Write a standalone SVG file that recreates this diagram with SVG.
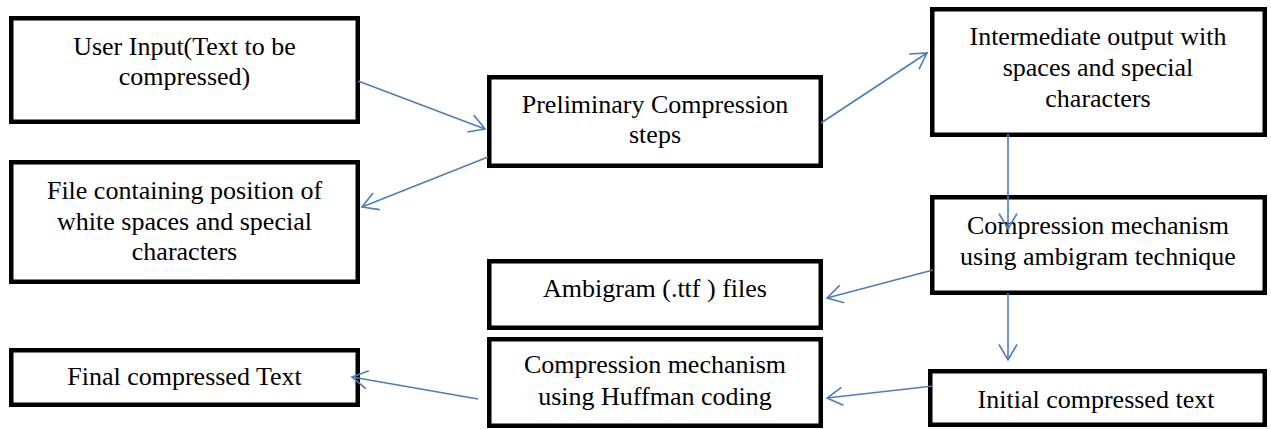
<svg xmlns="http://www.w3.org/2000/svg" width="1271" height="429" viewBox="0 0 1271 429">
<style>
.box{fill:#fff;stroke:#000;stroke-width:4.5}
.t{font-family:"Liberation Serif","Times New Roman",serif;font-size:26px;fill:#000;text-anchor:middle}
.c{fill:none;stroke:#4a7ebb;stroke-width:1.6;marker-end:url(#ah)}
</style>
<defs>
<marker id="ah" markerUnits="userSpaceOnUse" orient="auto" markerWidth="20" markerHeight="22" viewBox="-18 -11 20 22" refX="0" refY="0" overflow="visible">
<path d="M-15.5,-9 L0,0 L-15.5,9" fill="none" stroke="#4a7ebb" stroke-width="1.6"/>
</marker>
</defs>
<rect width="1271" height="429" fill="#fff"/>
<g id="n1"><rect class="box" x="11.25" y="18.25" width="346.5" height="103.5"/><text class="t" x="184.5" y="55">User Input(Text to be</text><text class="t" x="184.5" y="85">compressed)</text></g>
<g id="n2"><rect class="box" x="11.25" y="162.25" width="346.5" height="119.5"/><text class="t" x="184.5" y="199">File containing position of</text><text class="t" x="184.5" y="230">white spaces and special</text><text class="t" x="184.5" y="260">characters</text></g>
<g id="n3"><rect class="box" x="489.25" y="77.25" width="331.5" height="88.5"/><text class="t" x="655" y="113">Preliminary Compression</text><text class="t" x="655" y="143">steps</text></g>
<g id="n4"><rect class="box" x="932.25" y="9.25" width="332.5" height="125.5"/><text class="t" x="1098" y="45">Intermediate output with</text><text class="t" x="1098" y="76">spaces and special</text><text class="t" x="1098" y="107">characters</text></g>
<g id="n5"><rect class="box" x="932.25" y="197.25" width="332.5" height="95.5"/><text class="t" x="1098" y="234">Compression mechanism</text><text class="t" x="1098" y="265">using ambigram technique</text></g>
<g id="n6"><rect class="box" x="489.25" y="261.25" width="331.5" height="66.5"/><text class="t" x="655" y="297">Ambigram (.ttf ) files</text></g>
<g id="n7"><rect class="box" x="489.25" y="339.25" width="331.5" height="86.5"/><text class="t" x="655" y="373">Compression mechanism</text><text class="t" x="655" y="405">using Huffman coding</text></g>
<g id="n8"><rect class="box" x="930.25" y="371.25" width="334.5" height="53.5"/><text class="t" x="1096" y="408">Initial compressed text</text></g>
<g id="n9"><rect class="box" x="11.25" y="350.25" width="346.5" height="54.5"/><text class="t" x="184.5" y="385">Final compressed Text</text></g>
<g id="connectors">
<line class="c" x1="358" y1="81" x2="485" y2="129"/>
<line class="c" x1="488" y1="157" x2="362" y2="207"/>
<line class="c" x1="821" y1="123" x2="927" y2="53"/>
<line class="c" x1="1008" y1="134" x2="1008" y2="229"/>
<line class="c" x1="933" y1="270" x2="827" y2="298"/>
<line class="c" x1="1008" y1="293" x2="1008" y2="360"/>
<line class="c" x1="933" y1="386" x2="827" y2="398"/>
<line class="c" x1="478" y1="399" x2="352" y2="377"/>
</g>
</svg>
